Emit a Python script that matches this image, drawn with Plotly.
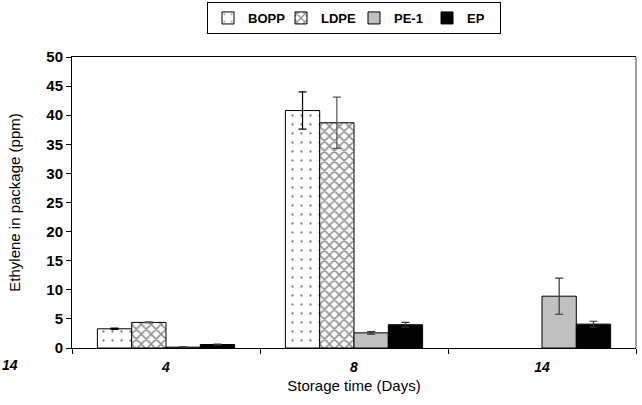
import plotly.graph_objects as go

days = ["4", "8", "14"]
day_labels = ["<b><i>4</i></b>", "<b><i>8</i></b>", "<b><i>14</i></b>"]

bopp = [3.3, 40.8, None]
bopp_err = [0.1, 3.2, None]
ldpe = [4.4, 38.7, None]
ldpe_err = [0.1, 4.4, None]
pe1 = [0.15, 2.6, 8.9]
pe1_err = [0.05, 0.2, 3.1]
ep = [0.6, 4.0, 4.1]
ep_err = [0.05, 0.4, 0.5]

y_ticks = [0, 5, 10, 15, 20, 25, 30, 35, 40, 45, 50]

FONT = "Liberation Sans, Arial, sans-serif"

fig = go.Figure()

series = [
    ("BOPP", bopp, bopp_err, dict(color="white", line=dict(color="black", width=1),
                                  pattern=dict(shape=".", fgcolor="black", bgcolor="white",
                                               size=9, solidity=0.05)), "black"),
    ("LDPE", ldpe, ldpe_err, dict(color="white", line=dict(color="black", width=1),
                                  pattern=dict(shape="x", fgcolor="#222222", bgcolor="white",
                                               size=7, solidity=0.4)), "#555555"),
    ("PE-1", pe1, pe1_err, dict(color="#c0c0c0", line=dict(color="black", width=1)), "#333333"),
    ("EP", ep, ep_err, dict(color="black", line=dict(color="black", width=1)), "#333333"),
]

for name, vals, errs, marker, ecol in series:
    fig.add_trace(go.Bar(
        name=name, x=days, y=vals, marker=marker,
        error_y=dict(type="data", array=errs, visible=True, color=ecol,
                     thickness=1.2, width=4),
    ))

fig.update_layout(
    width=642, height=405,
    margin=dict(l=72, r=6, t=57, b=57),
    paper_bgcolor="white", plot_bgcolor="white",
    barmode="group", bargap=0.27, bargroupgap=0,
    font=dict(family=FONT, color="black"),
    showlegend=True,
    legend=dict(
        orientation="h", x=0.5, xanchor="center", xref="paper",
        y=1 - 2 / 405, yref="container", yanchor="top",
        bordercolor="black", borderwidth=1,
        font=dict(family=FONT, size=13, color="black", weight="bold"),
        itemwidth=30, traceorder="normal",
        entrywidth=28, entrywidthmode="pixels",
        tracegroupgap=0,
    ),
    xaxis=dict(
        type="category", tickmode="array", tickvals=days, ticktext=day_labels,
        tickfont=dict(family=FONT, size=14, color="black"),
        showline=True, linecolor="black", linewidth=1, mirror=True,
        ticks="outside", ticklen=5, tickcolor="black", tickson="boundaries",
        ticklabelstandoff=6,
        showgrid=False, zeroline=False,
        title=dict(text="Storage time (Days)", font=dict(family=FONT, size=15),
                   standoff=6),
    ),
    yaxis=dict(
        range=[0, 50], tickmode="array", tickvals=y_ticks,
        tickfont=dict(family=FONT, size=15, color="black", weight="bold"),
        showline=True, linecolor="black", linewidth=1,
        ticks="outside", ticklen=5, tickcolor="black",
        showgrid=False, zeroline=False,
        title=dict(text="Ethylene in package (ppm)", font=dict(family=FONT, size=15),
                   standoff=22),
    ),
)

fig.add_shape(type="line", xref="paper", yref="paper", x0=1, x1=1, y0=0, y1=1,
              line=dict(color="#808080", width=1.5))

fig.add_annotation(
    text="<b><i>14</i></b>", xref="paper", yref="paper",
    x=-72 / 564, xanchor="left", y=-17 / 291, yanchor="middle",
    showarrow=False, font=dict(family=FONT, size=14, color="black"),
)

fig.write_html("out.html")
